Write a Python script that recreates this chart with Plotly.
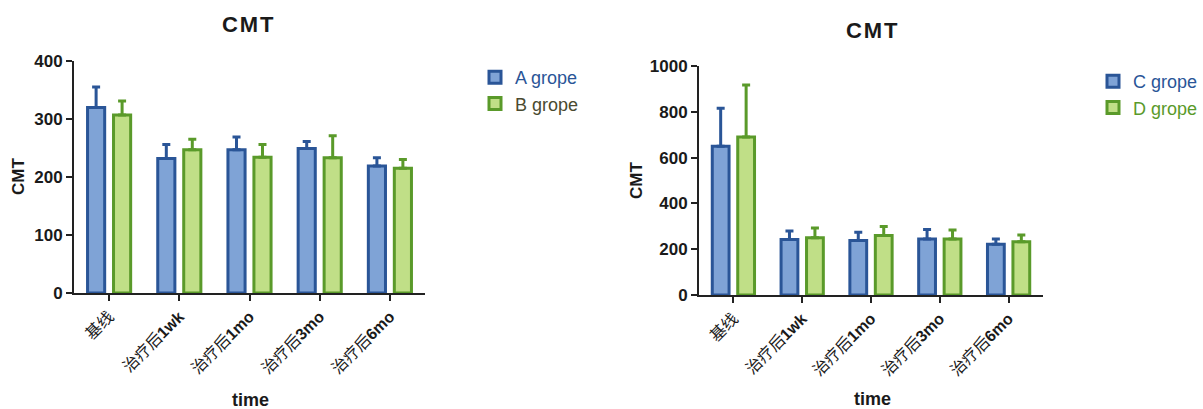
import plotly.graph_objects as go

categories = ["基线", "治疗后1wk", "治疗后1mo", "治疗后3mo", "治疗后6mo"]
tick_labels = ["基线", "治疗后<b>1wk</b>", "治疗后<b>1mo</b>", "治疗后<b>3mo</b>", "治疗后<b>6mo</b>"]

a_mean = [320, 232, 247, 249, 219]
a_err = [35, 24, 22, 12, 14]
b_mean = [307, 247, 234, 233, 215]
b_err = [24, 18, 22, 38, 15]

c_mean = [650, 242, 238, 245, 222]
c_err = [165, 38, 36, 41, 22]
d_mean = [690, 250, 260, 245, 233]
d_err = [227, 43, 39, 39, 29]

BLUE_FILL = "#7FA3D6"
BLUE_LINE = "#2A5597"
GREEN_FILL = "#C0DF87"
GREEN_LINE = "#5A9A2A"

W, H = 1203, 409
FONT = "Arial, Liberation Sans, Noto Sans CJK SC, sans-serif"


def px_x(p):
    return p / W


def px_y(p):
    return (H - p) / H


fig = go.Figure()


def add_bar(x_ax, y_ax, name, vals, errs, fill, line, legend):
    fig.add_trace(go.Bar(
        x=categories, y=vals, name=name,
        xaxis=x_ax, yaxis=y_ax, legend=legend,
        marker=dict(color=fill, line=dict(color=line, width=3)),
        error_y=dict(type="data", array=errs, arrayminus=[0] * len(errs),
                     symmetric=False, color=line, thickness=3, width=4),
    ))


add_bar("x", "y", "<span style='color:#2A5597'>A grope</span>", a_mean, a_err, BLUE_FILL, BLUE_LINE, "legend")
add_bar("x", "y", "<span style='color:#4A4A30'>B grope</span>", b_mean, b_err, GREEN_FILL, GREEN_LINE, "legend")
add_bar("x2", "y2", "<span style='color:#2A5597'>C grope</span>", c_mean, c_err, BLUE_FILL, BLUE_LINE, "legend2")
add_bar("x2", "y2", "<span style='color:#5A9A2A'>D grope</span>", d_mean, d_err, GREEN_FILL, GREEN_LINE, "legend2")

xaxis_common = dict(
    type="category", categoryorder="array", categoryarray=categories,
    tickvals=categories, ticktext=tick_labels, tickangle=-45,
    showline=True, linecolor="#222222", linewidth=2,
    ticks="outside", ticklen=6, tickwidth=2, tickcolor="#222222",
    tickfont=dict(family=FONT, size=16, color="#1a1a1a"),
    showgrid=False, zeroline=False, range=[-0.5, 4.5], fixedrange=True,
    automargin=False,
)
yaxis_common = dict(
    showline=True, linecolor="#222222", linewidth=2,
    ticks="outside", ticklen=6, tickwidth=2, tickcolor="#222222",
    tickfont=dict(family=FONT, size=17, color="#1a1a1a", weight="bold"),
    showgrid=False, zeroline=False, fixedrange=True, automargin=False,
)

fig.update_layout(
    width=W, height=H,
    margin=dict(l=0, r=0, t=0, b=0, autoexpand=False),
    paper_bgcolor="white", plot_bgcolor="white",
    barmode="group", bargap=0.26, bargroupgap=0.34,
    showlegend=True,
    xaxis=dict(xaxis_common, domain=[px_x(74), px_x(425)], anchor="y"),
    yaxis=dict(yaxis_common, domain=[px_y(293), px_y(61)], anchor="x",
               range=[0, 400], tickvals=[0, 100, 200, 300, 400]),
    xaxis2=dict(xaxis_common, domain=[px_x(699), px_x(1043)], anchor="y2"),
    yaxis2=dict(yaxis_common, domain=[px_y(295), px_y(66)], anchor="x2",
                range=[0, 1000], tickvals=[0, 200, 400, 600, 800, 1000]),
    legend=dict(x=px_x(475), y=px_y(59), xanchor="left", yanchor="top",
                font=dict(family=FONT, size=18), bgcolor="rgba(0,0,0,0)",
                itemclick=False),
    legend2=dict(x=px_x(1093), y=px_y(63), xanchor="left", yanchor="top",
                 font=dict(family=FONT, size=18), bgcolor="rgba(0,0,0,0)",
                 itemclick=False),
)

annotations = [
    dict(text="C\u200aM\u200aT", x=px_x(248), y=px_y(24), size=22),
    dict(text="C\u200aM\u200aT", x=px_x(872), y=px_y(31), size=22),
    dict(text="time", x=px_x(250), y=px_y(400), size=18),
    dict(text="time", x=px_x(872), y=px_y(399), size=18),
]
for a in annotations:
    fig.add_annotation(text=a["text"], x=a["x"], y=a["y"], xref="paper", yref="paper",
                       xanchor="center", yanchor="middle", showarrow=False,
                       font=dict(family=FONT, size=a["size"], color="#1a1a1a", weight="bold"))

for (xc, yc) in [(18, 177), (636, 181)]:
    fig.add_annotation(text="CMT", x=px_x(xc), y=px_y(yc), xref="paper", yref="paper",
                       xanchor="center", yanchor="middle", showarrow=False, textangle=-90,
                       font=dict(family=FONT, size=17, color="#1a1a1a", weight="bold"))

fig.write_html(
    "out.html",
    config={"displayModeBar": False},
    post_script="document.body.style.margin='0';document.body.style.overflow='hidden';",
)
